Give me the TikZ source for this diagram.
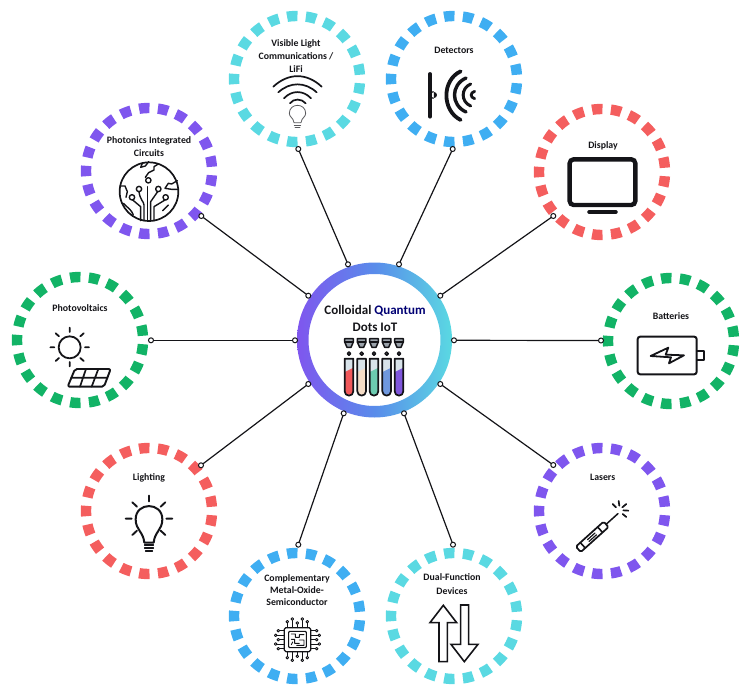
\documentclass[tikz,border=0pt]{standalone}
\usepackage{fontspec}
\setmainfont{Carlito}
\definecolor{cy}{HTML}{5AD9E2}
\definecolor{bl}{HTML}{3FAEF2}
\definecolor{rd}{HTML}{F45E5E}
\definecolor{gr}{HTML}{12B366}
\definecolor{pu}{HTML}{7F56EE}
\definecolor{ink}{HTML}{141418}
\definecolor{tubetop}{HTML}{D8E3EA}
\definecolor{capgray}{HTML}{9AA2AA}
\tikzset{
 ringc/.style={circle,draw=#1,line width=10.4pt,minimum size=126pt,inner sep=0pt,outer sep=0pt,dash pattern=on 10.4pt off 8.45pt,dash phase=14.6pt},
 lab/.style={font=\bfseries\fontsize{9.8}{13}\selectfont,text=ink,align=center,inner sep=0pt},
 dotn/.style={circle,draw=ink,fill=white,line width=1pt,minimum size=5pt,inner sep=0pt,outer sep=0pt},
 link/.style={draw=ink,line width=1.2pt},
 zm/.style 2 args={x=0.33333pt,y=-0.33333pt,shift={(3*#1,3*#2)}},
 ic/.style={draw=ink,line width=#1,line cap=round,line join=round},
 ic/.default=1.3pt
}
\begin{document}
\begin{tikzpicture}[x=1pt,y=-1pt]
\useasboundingbox (0,0) rectangle (753,690);
% rings
\node[ringc=cy] (vl) at (297,79) {};
\node[ringc=bl] (de) at (454,79) {};
\node[ringc=rd] (di) at (602,172) {};
\node[ringc=gr] (ba) at (671,341) {};
\node[ringc=pu] (la) at (602,511) {};
\node[ringc=cy] (du) at (454,616) {};
\node[ringc=bl] (cm) at (297,616) {};
\node[ringc=rd] (li) at (149,511) {};
\node[ringc=gr] (pv) at (80,340) {};
\node[ringc=pu] (pi) at (149,171) {};
% central ring
\shade[even odd rule,left color=pu,right color=cy,middle color=pu!40!cy!85!blue] (374.5,340) circle (77.5) (374.5,340) circle (66);
% connectors
\foreach \n/\x/\y in {c1/348/264.3,c2/399/264.3,c3/440.3/295.7,c4/454/340.3,c5/440.3/384,c6/404/413.3,c7/343.7/413.3,c8/308.3/384,c9/295/340.3,c10/308.3/295.7,
 o1/298.3/149,o2/452.7/149,o3/553.3/216,o4/601/340.5,o5/553.3/465,o6/453/544.7,o7/298.3/544.7,o8/201/465.3,o9/151/340.3,o10/201.3/216}
  \node[dotn] (\n) at (\x,\y) {};
\foreach \i in {1,...,10} \draw[link] (c\i) -- (o\i);
% labels
\node[lab] (t1) at (296,56) {Visible Light\\[0.2pt]Communications /\\[0.2pt]LiFi};
\node[lab] (t2) at (454,50.7) {Detectors};
\node[lab] (t3) at (603,145.5) {Display};
\node[lab] (t4) at (671,316) {Batteries};
\node[lab] (t5) at (602.7,477.7) {Lasers};
\node[lab] (t6) at (452,584) {Dual-Function\\[0.6pt]Devices};
\node[lab] (t7) at (297,590) {Complementary\\[-0.6pt]Metal-Oxide-\\[-0.6pt]Semiconductor};
\node[lab] (t8) at (149,477.7) {Lighting};
\node[lab] (t9) at (80,307.7) {Photovoltaics};
\node[lab] (t10) at (149,146.5) {Photonics Integrated\\Circuits};
\node[lab,font=\bfseries\fontsize{13}{17.5}\selectfont] (t0) at (375,318.5) {Colloidal \textcolor{blue!45!black}{Quantum}\\Dots IoT};
% wifi + bulb
\begin{scope}[zm={210}{0}]
 \draw[ic=1.7pt] (190,260) .. controls (235,218) and (290,218) .. (335,260);
 \draw[ic=1.7pt] (205,277) .. controls (240,245) and (285,245) .. (320,277);
 \draw[ic=1.7pt] (222,295) .. controls (245,270) and (280,270) .. (303,295);
 \draw[ic=1.7pt] (240,310) .. controls (250,295) and (275,295) .. (287,310);
 \draw[ic=0.8pt,draw=ink!70] (252,368) .. controls (250,352) and (238,352) .. (238,340) .. controls (238,308) and (287,308) .. (287,340) .. controls (287,352) and (275,352) .. (273,368) -- cycle;
 \draw[ic=0.8pt,draw=ink!70] (253,375) -- (272,375) (255,383) -- (270,383);
 % detector
 \draw[ic=3.8pt] (660,222) -- (660,350);
 \fill[ink] (660,274) rectangle (672,296) (672,285) circle (9);
 \draw[ic=3.8pt] (752,214) .. controls (695,240) and (695,332) .. (752,360);
 \draw[ic=3.4pt] (768,234) .. controls (722,255) and (722,315) .. (768,336);
 \draw[ic=3pt] (782,252) .. controls (752,265) and (752,305) .. (782,318);
 \draw[ic=2.8pt] (794,274) .. controls (780,278) and (780,292) .. (794,296);
\end{scope}
% display
\begin{scope}[zm={525}{100}]
 \draw[draw=ink,line width=4.4pt,rounded corners=4pt] (134,178) rectangle (331,315);
 \draw[ink,line width=4.2pt,line cap=round] (193,336) -- (272,336);
\end{scope}
% battery
\begin{scope}[zm={600}{280}]
 \draw[ic=2pt,rounded corners=2.5pt] (113,170) rectangle (290,283);
 \draw[ic=1.7pt] (290,213) -- (312,213) -- (312,241) -- (290,241);
 \draw[ic=1.8pt] (152,228) -- (205,203) -- (197,224) -- (252,226) -- (207,250) -- (213,232) -- cycle;
\end{scope}
% laser
\begin{scope}[zm={530}{440}]
 \begin{scope}[shift={(145,328)},rotate=42]
  \draw[ic=1.7pt,rounded corners=1.5pt] (0,-11) rectangle (112,11);
  \draw[ic=1.6pt] (18,-11) -- (18,11) (88,-11) -- (88,11);
  \draw[ic=1.2pt] (40,-3) -- (70,-3) (40,4) -- (70,4);
  \draw[ic=1.5pt] (112,0) -- (160,0);
 \end{scope}
 \draw[ic=1.7pt] (248,192) -- (258,202) (266,183) -- (268,197) (289,192) -- (277,202) (295,212) -- (280,211) (289,231) -- (278,222);
\end{scope}
% lamp
\begin{scope}[zm={75}{440}]
 \draw[ic=2pt] (208,308) .. controls (205,275) and (182,270) .. (182,238) .. controls (182,185) and (262,185) .. (262,238) .. controls (262,270) and (239,275) .. (236,308) -- cycle;
 \draw[ic=1.7pt] (209,316) -- (235,316) (209,325) -- (235,325) (212,334) -- (232,334);
 \draw[ic=1.9pt] (222,167) -- (222,184) (172,187) -- (186,200) (271,187) -- (257,200) (152,236) -- (170,236) (274,236) -- (292,236) (172,285) -- (186,272) (271,285) -- (257,272);
\end{scope}
% PV
\begin{scope}[zm={0}{260}]
 \draw[ic=1.8pt] (209,262) circle (33);
 \draw[ic=1.8pt] (209,203) -- (209,216) (209,306) -- (209,319) (151,262) -- (163,262) (255,262) -- (267,262)
   (167,220) -- (177,229) (251,220) -- (241,229) (167,303) -- (177,294) (251,303) -- (241,294);
 \draw[ic=1.9pt,rounded corners=2pt] (225,327) -- (332,327) -- (312,380) -- (203,380) -- cycle;
 \draw[ic=1.7pt] (214,353) -- (322,353) (258,327) -- (240,380) (295,327) -- (275,380);
\end{scope}
% dual arrows
\begin{scope}[zm={220}{530}]
 \draw[ic=1.6pt,line cap=butt,line join=miter] (670,226) -- (710,278) -- (682,278) -- (682,395) -- (657,395) -- (657,278) -- (630,278) -- cycle;
 \draw[ic=1.6pt,line cap=butt,line join=miter] (722,225) -- (746,225) -- (746,343) -- (774,343) -- (733,395) -- (693,343) -- (722,343) -- cycle;
\end{scope}
% chip
\begin{scope}[zm={220}{530}]
 \draw[ic=1.2pt,rounded corners=1.5pt] (193,293) rectangle (272,365);
 \draw[ic=1.1pt,rounded corners=1pt] (206,304) rectangle (259,353);
 \draw[ic=0.9pt] (214,312) -- (226,312) -- (226,322) -- (238,322) -- (238,314) -- (252,314)
   (214,328) -- (224,328) -- (224,340) -- (238,340) (214,344) -- (218,336) (238,330) -- (252,330) -- (252,346) -- (230,346);
 \foreach \d/\l in {-30/14,-15/22,0/10,15/22,30/14}{
  \draw[ic=0.9pt] (232+\d,293) -- (232+\d,293-\l);
  \draw[ic=0.9pt,fill=white] (232+\d,293-\l-4) circle (4);
  \draw[ic=0.9pt] (232+\d,365) -- (232+\d,365+\l);
  \draw[ic=0.9pt,fill=white] (232+\d,365+\l+4) circle (4);
 }
 \foreach \d/\l in {-27/14,-13/22,0/14,13/22,27/14}{
  \draw[ic=0.9pt] (193,329+\d) -- (193-\l,329+\d);
  \draw[ic=0.9pt,fill=white] (193-\l-4,329+\d) circle (4);
  \draw[ic=0.9pt] (272,329+\d) -- (272+\l,329+\d);
  \draw[ic=0.9pt,fill=white] (272+\l+4,329+\d) circle (4);
 }
\end{scope}
% globe
\begin{scope}[zm={70}{90}]
 \draw[ic=1.7pt] (237,305) circle (88);
 \draw[ic=1.4pt] (222,392) -- (222,345) .. controls (222,335) and (210,330) .. (207,305);
 \draw[ic=1.4pt] (232,392) -- (232,290);
 \draw[ic=1.4pt] (242,392) -- (242,335) -- (263,305);
 \draw[ic=1.4pt] (212,392) -- (212,350) -- (188,330);
 \draw[ic=1.4pt] (252,392) -- (252,350) -- (285,330);
 \draw[ic=1.4pt] (160,340) .. controls (175,355) and (185,360) .. (190,375);
 \foreach \p in {(235,271),(207,297),(265,297),(186,322),(287,322)}
  \draw[ic=1.4pt,fill=white] \p circle (8);
 \draw[ic=1.4pt] (218,218) -- (212,232) -- (226,228) -- (236,215);
 \draw[ic=1.4pt] (265,222) -- (252,230) -- (252,240) -- (236,248) -- (226,262);
 \draw[ic=1.4pt] (150,288) -- (165,288) -- (172,305) -- (168,322);
 \draw[ic=1.4pt] (322,272) -- (305,282) -- (295,280) -- (285,295) -- (305,298) -- (325,298);
 \draw[ic=1.4pt] (278,362) -- (295,345);
\end{scope}
% test tubes
\begin{scope}[zm={280}{250}]
 \foreach \x/\c in {207/F0585A,245/F4DCC6,282/6CCBB0,320/6F98DE,357/7F56DC}{
  \definecolor{tc}{HTML}{\c}
  \fill[tubetop] (\x-12,326) rectangle (\x+12,365);
  \fill[tc] (\x-12,366) -- (\x+12,354) -- (\x+12,424) arc (0:180:12) -- cycle;
  \draw[ic=1.7pt] (\x-13,326) -- (\x-13,424) arc (180:0:13) -- (\x+13,326) -- cycle;
  \draw[ic=1.5pt,fill=capgray] (\x-13,266) -- (\x+13,266) -- (\x+13,276) -- (\x+6,292) -- (\x-6,292) -- (\x-13,276) -- cycle;
  \draw[ic=1.2pt] (\x-13,276) -- (\x+13,276);
  \draw[ic=1.5pt,fill=gray] (\x,311) circle (5);
 }
\end{scope}
\end{tikzpicture}
\end{document}
